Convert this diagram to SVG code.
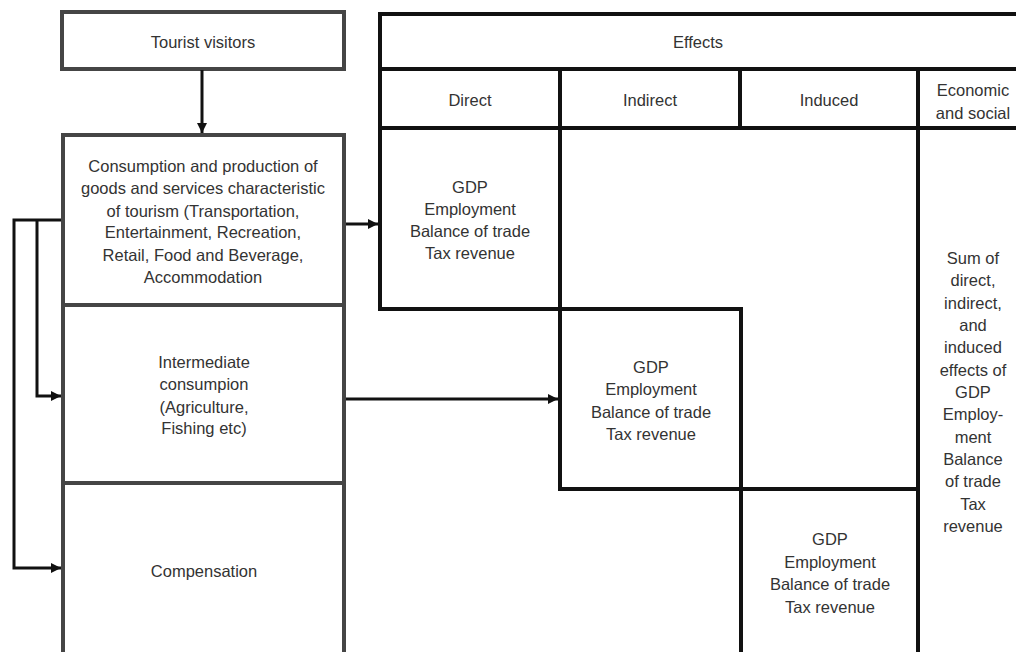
<svg xmlns="http://www.w3.org/2000/svg" width="1016" height="652" viewBox="0 0 1016 652">
<defs>
<style>
.bg{fill:#ffffff}
.lbox{fill:#ffffff;stroke:#454545;stroke-width:4}
.tbox{fill:#ffffff;stroke:#111111;stroke-width:4}
.t{font-family:"Liberation Sans",Arial,sans-serif;font-size:16.5px;fill:#333333;text-anchor:middle}
.c{fill:none;stroke:#111111;stroke-width:3}
</style>
<marker id="ah" viewBox="0 0 10 10" refX="10" refY="5" markerWidth="10" markerHeight="10" markerUnits="userSpaceOnUse" orient="auto">
<path d="M0,0 L10,5 L0,10 Z" fill="#111111"/>
</marker>
</defs>
<rect class="bg" x="0" y="0" width="1016" height="652"/>

<g id="tourist">
<rect class="lbox" x="62" y="12" width="282" height="57"/>
<text class="t" x="203" y="48">Tourist visitors</text>
</g>

<g id="consumption">
<rect class="lbox" x="63" y="135" width="281" height="170"/>
<text class="t" x="203" y="172">Consumption and production of</text>
<text class="t" x="203" y="194">goods and services characteristic</text>
<text class="t" x="203" y="217">of tourism (Transportation,</text>
<text class="t" x="203" y="238">Entertainment, Recreation,</text>
<text class="t" x="203" y="261">Retail, Food and Beverage,</text>
<text class="t" x="203" y="283">Accommodation</text>
</g>

<g id="intermediate">
<rect class="lbox" x="63" y="305" width="281" height="178"/>
<text class="t" x="204" y="368">Intermediate</text>
<text class="t" x="204" y="390">consumpion</text>
<text class="t" x="204" y="413">(Agriculture,</text>
<text class="t" x="204" y="434">Fishing etc)</text>
</g>

<g id="compensation">
<rect class="lbox" x="63" y="483" width="281" height="200"/>
<text class="t" x="204" y="577">Compensation</text>
</g>

<g id="effects">
<rect class="tbox" x="380" y="14" width="700" height="55"/>
<text class="t" x="698" y="48">Effects</text>
</g>

<g id="hdr-direct">
<rect class="tbox" x="380" y="69" width="180" height="59"/>
<text class="t" x="470" y="106">Direct</text>
</g>
<g id="hdr-indirect">
<rect class="tbox" x="560" y="69" width="180" height="59"/>
<text class="t" x="650" y="106">Indirect</text>
</g>
<g id="hdr-induced">
<rect class="tbox" x="740" y="69" width="178" height="59"/>
<text class="t" x="829" y="106">Induced</text>
</g>
<g id="hdr-economic">
<rect class="tbox" x="918" y="69" width="150" height="59"/>
<text class="t" x="973" y="96">Economic</text>
<text class="t" x="973" y="119">and social</text>
</g>

<g id="economic">
<rect class="tbox" x="918" y="128" width="150" height="560"/>
<text class="t" x="973" y="264">Sum of</text>
<text class="t" x="973" y="286">direct,</text>
<text class="t" x="973" y="309">indirect,</text>
<text class="t" x="973" y="331">and</text>
<text class="t" x="973" y="353">induced</text>
<text class="t" x="973" y="376">effects of</text>
<text class="t" x="973" y="398">GDP</text>
<text class="t" x="973" y="420">Employ-</text>
<text class="t" x="973" y="443">ment</text>
<text class="t" x="973" y="465">Balance</text>
<text class="t" x="973" y="487">of trade</text>
<text class="t" x="973" y="510">Tax</text>
<text class="t" x="973" y="532">revenue</text>
</g>

<g id="direct">
<rect class="tbox" x="380" y="128" width="180" height="181"/>
<text class="t" x="470" y="193">GDP</text>
<text class="t" x="470" y="215">Employment</text>
<text class="t" x="470" y="237">Balance of trade</text>
<text class="t" x="470" y="259">Tax revenue</text>
</g>

<g id="indirect">
<rect class="tbox" x="560" y="309" width="181" height="180"/>
<text class="t" x="651" y="373">GDP</text>
<text class="t" x="651" y="395">Employment</text>
<text class="t" x="651" y="418">Balance of trade</text>
<text class="t" x="651" y="440">Tax revenue</text>
</g>

<g id="induced">
<rect class="tbox" x="741" y="489" width="177" height="200"/>
<text class="t" x="830" y="545">GDP</text>
<text class="t" x="830" y="568">Employment</text>
<text class="t" x="830" y="590">Balance of trade</text>
<text class="t" x="830" y="613">Tax revenue</text>
</g>

<g id="connectors">
<line class="c" x1="202" y1="70" x2="202" y2="133" marker-end="url(#ah)"/>
<line class="c" x1="346" y1="224" x2="378" y2="224" marker-end="url(#ah)"/>
<line class="c" x1="346" y1="399" x2="558" y2="399" marker-end="url(#ah)"/>
<polyline class="c" points="61,220 14,220 14,568 61,568" marker-end="url(#ah)"/>
<polyline class="c" points="37,220 37,396 61,396" marker-end="url(#ah)"/>
</g>
</svg>
